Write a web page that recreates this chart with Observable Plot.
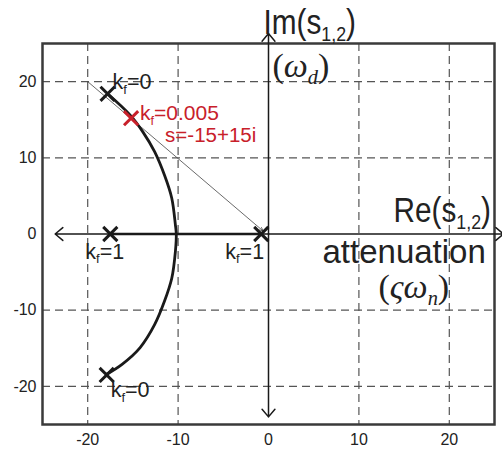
<!DOCTYPE html>
<html><head><meta charset="utf-8">
<script src="https://cdn.jsdelivr.net/npm/d3@7"></script>
<script src="https://cdn.jsdelivr.net/npm/@observablehq/plot@0.6"></script>
<style>
body{margin:0;background:#fff}
#chart svg{overflow:visible;display:block}
</style>
</head><body><div id="chart"></div>
<script>
// ---- data ----
const xTicks = [-20, -10, 0, 10, 20];
const yTicks = [-20, -10, 0, 10, 20];
const gridValues = [-20, -10, 10, 20];
const xDomain = [-25, 25];
const yDomain = [-25, 25];

// complex branch of the root locus (Re, Im)
const locusRe = [-17.8, -15.3, -13.9, -12.6, -11.5, -10.7, -10.3, -10.2, -10.3, -10.7, -11.5, -12.6, -14.2, -16.2, -17.9];
const locusIm = [18.4, 15.6, 13.4, 10.8, 7.7, 4.7, 1.2, 0, -2.3, -5.8, -8.8, -11.9, -14.9, -17.1, -18.4];
// real branch
const realBranchRe = [-17.5, -0.8];
const realBranchIm = [0, 0];
// marked points
const markRe = [-17.8, -17.9, -17.5, -0.8];
const markIm = [18.4, -18.5, 0, 0];
const markLabels = ["k_{f}=0", "k_{f}=0", "k_{f}=1", "k_{f}=1"];
// design point
const designRe = [-15.2];
const designIm = [15.2];
const designLabels = ["k_{f}=0.005", "s=-15+15i"];
// guide line from (-20,20) to the origin
const guideRe = [-20, -0.6];
const guideIm = [20, 0.4];
// axis arrow ends (Re axis left/right, Im axis up/down)
const axisEndRe = [-23.6, 26, 0, 0];
const axisEndIm = [0, 0, 26.3, -24];
// axis names
const imName = "Im(s_{1,2})";
const imSub = "(ω_{d})";
const reName = "Re(s_{1,2})";
const reSub = "attenuation";
const reSub2 = "(ςω_{n})";

const RED = "#c8202a";
const INK = "#1a1a1a";

const locus = locusRe.map((x, i) => ({x, y: locusIm[i]}));
const realBranch = realBranchRe.map((x, i) => ({x, y: realBranchIm[i]}));
const marks = markRe.map((x, i) => ({x, y: markIm[i], label: markLabels[i]}));
const design = designRe.map((x, i) => ({x, y: designIm[i]}));
const axisArrows = axisEndRe.map((x, i) => ({x1: 0, y1: 0, x2: x, y2: axisEndIm[i]}));

const labelOffsets = [[5, -4.5], [4, 22.5], [-25, 24.5], [-36, 24.5]];

const plot = Plot.plot({
  width: 502,
  height: 452,
  marginLeft: 42,
  marginRight: 8,
  marginTop: 43,
  marginBottom: 28,
  style: {fontFamily: "'Liberation Sans', Arial, sans-serif", fontSize: "16px", color: "#222", background: "#fff"},
  x: {domain: xDomain, ticks: xTicks, tickSize: 0, tickPadding: 9, label: null, tickFormat: d => String(d)},
  y: {domain: yDomain, ticks: yTicks, tickSize: 0, tickPadding: 6, label: null, tickFormat: d => String(d)},
  marks: [
    Plot.ruleX(gridValues, {stroke: "#555", strokeWidth: 1.2, strokeDasharray: "8,5"}),
    Plot.ruleY(gridValues, {stroke: "#555", strokeWidth: 1.2, strokeDasharray: "8,5"}),
    Plot.frame({stroke: "#3a3a3a", strokeWidth: 2.5}),
    Plot.arrow(axisArrows, {x1: "x1", y1: "y1", x2: "x2", y2: "y2", stroke: INK, strokeWidth: 1.5, headLength: 10, headAngle: 80}),
    Plot.arrow([{x1: guideRe[0], y1: guideIm[0], x2: guideRe[1], y2: guideIm[1]}], {x1: "x1", y1: "y1", x2: "x2", y2: "y2", stroke: "#444", strokeWidth: 0.8, headLength: 7, headAngle: 50}),
    Plot.line(realBranch, {x: "x", y: "y", stroke: INK, strokeWidth: 2.6}),
    Plot.line(locus, {x: "x", y: "y", stroke: INK, strokeWidth: 2.8, curve: "catmull-rom"}),
    Plot.dot(marks, {x: "x", y: "y", symbol: "times", r: 6.5, stroke: INK, strokeWidth: 3}),
    Plot.dot(design, {x: "x", y: "y", symbol: "times", r: 6.5, stroke: RED, strokeWidth: 3}),
    ...marks.map((d, i) => Plot.text([d], {x: "x", y: "y", text: "label", textAnchor: "start", lineAnchor: "bottom", dx: labelOffsets[i][0], dy: labelOffsets[i][1], fontSize: 21.5, fill: "#222"})),
    Plot.text(design, {x: "x", y: "y", text: () => designLabels[0], textAnchor: "start", lineAnchor: "bottom", dx: 9, dy: 2, fontSize: 21, fill: RED}),
    Plot.text(design, {x: "x", y: "y", text: () => designLabels[1], textAnchor: "start", lineAnchor: "bottom", dx: 34, dy: 24, fontSize: 20.5, fill: RED}),
    Plot.text([imName], {x: () => 0, y: () => 0, text: d => d, textAnchor: "start", lineAnchor: "bottom", dx: -5, dy: -200.5, fontSize: 35, fill: "#222", ariaDescription: "narrow"}),
    Plot.text([reName], {x: () => 0, y: () => 0, text: d => d, textAnchor: "start", lineAnchor: "bottom", dx: 125, dy: -12.5, fontSize: 35, fill: "#222", ariaDescription: "narrow"}),
    Plot.text([imSub], {x: () => 0, y: () => 0, text: d => d, textAnchor: "start", lineAnchor: "bottom", dx: 4, dy: -157.5, fontSize: 34, fontFamily: "'Liberation Serif', 'DejaVu Serif', serif", fontStyle: "italic", fill: "#222"}),
    Plot.text([reSub], {x: () => 0, y: () => 0, text: d => d, textAnchor: "start", lineAnchor: "bottom", dx: 54, dy: 28.5, fontSize: 33, fill: "#222"}),
    Plot.text([reSub2], {x: () => 0, y: () => 0, text: d => d, textAnchor: "start", lineAnchor: "bottom", dx: 110, dy: 63.5, fontSize: 34, fontFamily: "'Liberation Serif', 'DejaVu Serif', serif", fontStyle: "italic", fill: "#222"})
  ]
});
document.getElementById("chart").appendChild(plot);

// rich text: subscripts written as _{...}; upright parentheses in italic labels
const NS = "http://www.w3.org/2000/svg";
plot.querySelectorAll("text").forEach(t => {
  const s = t.textContent;
  if (!s.includes("_{") && !/[()]/.test(s)) return;
  const cs = getComputedStyle(t);
  const fs = parseFloat(cs.fontSize);
  const italic = cs.fontStyle === "italic";
  while (t.firstChild) t.removeChild(t.firstChild);
  const re = /_\{([^}]*)\}|([^_]+)/g;
  let m, shifted = false;
  const shift = fs * 0.22;
  while ((m = re.exec(s))) {
    if (m[1] != null) {
      const sp = document.createElementNS(NS, "tspan");
      sp.textContent = m[1];
      sp.setAttribute("font-size", (fs * 0.6).toFixed(1));
      sp.setAttribute("dy", shift.toFixed(1));
      t.appendChild(sp);
      shifted = true;
    } else {
      for (const part of m[2].split(/([()])/).filter(Boolean)) {
        const sp = document.createElementNS(NS, "tspan");
        sp.textContent = part;
        if (italic && /[()]/.test(part)) sp.setAttribute("font-style", "normal");
        if (shifted) { sp.setAttribute("dy", (-shift).toFixed(1)); shifted = false; }
        t.appendChild(sp);
      }
    }
  }
});
// condensed axis names: scale each group horizontally about its left edge
const svgLeft = plot.getBoundingClientRect().left;
plot.querySelectorAll('g[aria-description="narrow"]').forEach(g => {
  const x0 = g.getBoundingClientRect().left - svgLeft;
  const prev = g.getAttribute("transform") || "";
  g.setAttribute("transform", `translate(${x0},0) scale(0.85,1) translate(${-x0},0) ${prev}`);
});
</script>
</body></html>
